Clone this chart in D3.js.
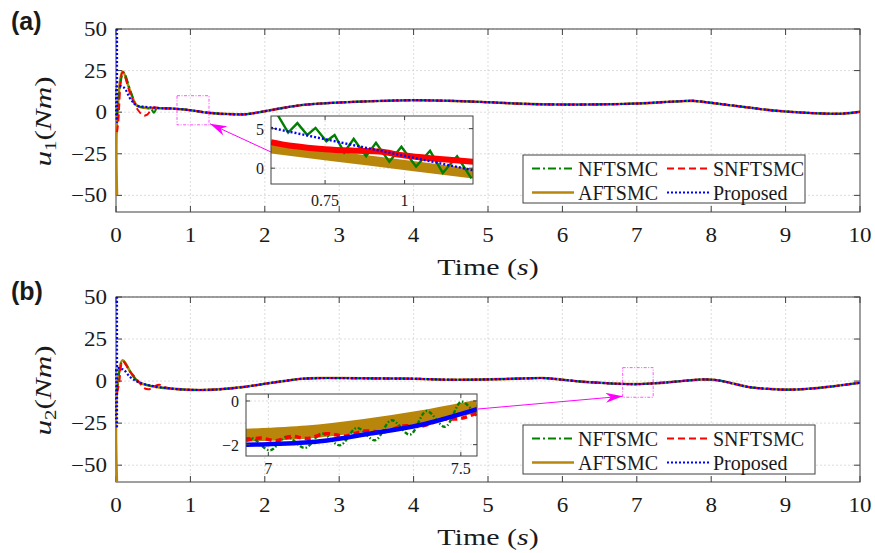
<!DOCTYPE html>
<meta charset="utf-8">
<style>
  body { margin: 0; background: #fff; }
  svg text { font-family: 'Liberation Serif', 'Times New Roman', serif; fill: #1a1a1a; }
  .tag { font-family: 'Liberation Sans', Arial, sans-serif !important; font-weight: bold; font-size: 25px; }
</style>
<body>
<div id="chart"></div>
<script src="https://cdn.jsdelivr.net/npm/d3@7/dist/d3.min.js"></script>
<script>
// ---- data ----
var timeTicks = [0, 1, 2, 3, 4, 5, 6, 7, 8, 9, 10];
var uTicks = [-50, -25, 0, 25, 50];
var methods = ["NFTSMC", "SNFTSMC", "AFTSMC", "Proposed"];

// joint 1: start-up transients, then a shared steady part
var nftsmcHead1 = [[0, -2], [0.1, 24], [0.2, 12], [0.28, 4], [0.4, 2.6], [0.47, 2], [0.51, -0.3], [0.55, 2.4]];
var snftsmcHead1 = [[0, -12], [0.03, -6], [0.09, 24], [0.2, 10], [0.3, 1], [0.37, -2], [0.42, -1.5], [0.5, 2.8]];
var aftsmcHead1 = [[0, -50], [0, -5], [0.09, 24.5], [0.18, 14], [0.28, 4], [0.4, 2.6], [0.5, 2.4]];
var proposedHead1 = [[0, 50], [0, -6], [0.01, 15.5], [0.1, 15], [0.2, 7.5], [0.28, 4], [0.37, 3.3], [0.5, 2.8]];
var tail1 = [[0.6, 2.4], [0.75, 2.2], [1.0, 1.2], [1.25, -0.4], [1.5, -1.1], [1.75, -1.2], [2.0, 0.6], [2.25, 2.6],
  [2.5, 4.3], [2.75, 5.2], [3.0, 5.8], [3.5, 6.7], [4.0, 7.2], [4.5, 6.8], [5.0, 6.0], [5.5, 5.0], [6.0, 4.6],
  [6.5, 4.7], [7.0, 5.2], [7.5, 6.4], [7.75, 6.8], [8.0, 5.6], [8.25, 4.2], [8.5, 2.8], [8.75, 1.4], [9.0, 0.4],
  [9.25, -0.3], [9.5, -0.8], [9.75, -0.9], [10, 0.2]];

// joint 2
var nftsmcHead2 = [[0, -6], [0.09, 12], [0.2, 5], [0.3, -0.4], [0.5, -3.2], [0.75, -4.5]];
var snftsmcHead2 = [[0, -7], [0.04, -2], [0.09, 11.5], [0.2, 5], [0.3, 0], [0.38, -4.2], [0.45, -4.8], [0.52, -3],
  [0.58, -2.2], [0.66, -3.6], [0.75, -4.5]];
var aftsmcHead2 = [[0, -62], [0, -6], [0.09, 12.4], [0.2, 5], [0.3, -0.5], [0.5, -3.2], [0.75, -4.5]];
var proposedHead2 = [[0, 50], [0, -28], [0.01, 7.4], [0.1, 6.8], [0.19, 2.4], [0.3, -0.6], [0.5, -3], [0.75, -4.5]];
var tail2 = [[1.0, -5.2], [1.25, -5.2], [1.5, -4.5], [1.75, -3.3], [2.0, -1.6], [2.25, 0], [2.5, 1.4], [2.75, 1.8],
  [3.0, 1.8], [3.5, 1.6], [4.0, 1.4], [4.5, 0.8], [5.0, 1.0], [5.5, 1.6], [5.75, 1.8], [6.0, 0.8], [6.25, -0.3],
  [6.5, -1.0], [6.75, -1.6], [7.0, -1.8], [7.25, -1.3], [7.5, -0.4], [7.75, 0.6], [7.9, 1.0], [8.1, 0.4],
  [8.3, -1.5], [8.5, -3.5], [8.75, -4.6], [9.0, -5.1], [9.3, -4.6], [9.6, -3.3], [10, -1.0]];

// zoomed insets
var insetTime1 = [0.58, 1.215], insetU1 = [-2, 6.6];
var insetTimeTicks1 = [0.75, 1], insetUTicks1 = [0, 5];
var zoomBox1 = {t: [0.82, 1.25], u: [-7.6, 9.9]};
var nftsmcZoom1 = [[0.6, 6.8], [0.634, 4.5], [0.663, 5.7], [0.694, 4.2], [0.72, 5.1], [0.754, 3.4], [0.78, 4.2],
  [0.81, 2.0], [0.84, 3.7], [0.879, 1.5], [0.91, 3.2], [0.952, 0.8], [0.99, 2.7], [1.036, 0.2], [1.08, 2.2],
  [1.12, -0.6], [1.165, 1.5], [1.21, -1.3]];
var snftsmcZoom1 = [[0.58, 3.3], [0.65, 2.8], [0.75, 2.4], [0.85, 2.2], [0.92, 2.1], [1.0, 1.6], [1.1, 1.2], [1.22, 0.8]];
var aftsmcZoom1 = [[0.58, 2.5], [0.9, 0.9], [1.22, -0.7]];
var proposedZoom1 = [[0.58, 5.1], [1.22, -0.3]];

var insetTime2 = [6.942, 7.542], insetU2 = [-2.52, 0.32];
var insetTimeTicks2 = [7, 7.5], insetUTicks2 = [-2, 0];
var zoomBox2 = {t: [6.81, 7.22], u: [-9.6, 8]};
var nftsmcZoom2 = [[6.942, -1.72], [6.961, -1.72], [7.004, -2.26], [7.048, -1.64], [7.095, -2.15], [7.139, -1.49],
  [7.186, -2.03], [7.23, -1.23], [7.277, -1.8], [7.32, -0.88], [7.368, -1.54], [7.411, -0.46], [7.459, -1.18],
  [7.502, -0.03], [7.542, -0.72]];
var snftsmcZoom2 = [[6.942, -1.8], [6.98, -1.7], [7.02, -1.82], [7.06, -1.62], [7.1, -1.72], [7.15, -1.5], [7.2, -1.6],
  [7.25, -1.38], [7.3, -1.42], [7.35, -1.15], [7.4, -1.15], [7.45, -0.85], [7.5, -0.8], [7.542, -0.55]];
var aftsmcZoom2 = [[6.942, -1.57], [7.1, -1.42], [7.25, -1.12], [7.4, -0.72], [7.542, -0.25]];
var proposedZoom2 = [[6.942, -2.0], [7.0, -1.98], [7.134, -1.84], [7.264, -1.49], [7.394, -1.1], [7.542, -0.37]];

// ---- styles ----
var colors = {NFTSMC: "#008000", SNFTSMC: "#ff0000", AFTSMC: "#b8860b", Proposed: "#0000ff"};
var dashes = {NFTSMC: "8,3,2,3", SNFTSMC: "7,4", AFTSMC: null, Proposed: "2,2"};
var widths = {NFTSMC: 2, SNFTSMC: 2, AFTSMC: 2.6, Proposed: 2.2};
var drawOrder = ["AFTSMC", "NFTSMC", "SNFTSMC", "Proposed"];
var serif = "'Liberation Serif', 'Times New Roman', serif";

var svg = d3.select("#chart").append("svg").attr("width", 875).attr("height", 553);
var defs = svg.append("defs");
defs.append("marker")
  .attr("id", "arrowHead")
  .attr("viewBox", "0 0 10 10")
  .attr("preserveAspectRatio", "none")
  .attr("refX", 10).attr("refY", 5)
  .attr("markerWidth", 17).attr("markerHeight", 10)
  .attr("markerUnits", "userSpaceOnUse")
  .attr("orient", "auto")
  .append("path").attr("d", "M0,0L10,5L0,10L3,5Z").attr("fill", "#ff00ff");

function stretchText(parent, x, y, str, size, sx, anchor) {
  return parent.append("text")
    .attr("transform", "translate(" + x + "," + y + ") scale(" + sx + ",1)")
    .attr("text-anchor", anchor)
    .attr("font-family", serif)
    .style("font-size", size + "px")
    .text(str);
}

function fmt(v) { return String(v).replace("-", "\u2212"); }

var panels = [
  {tag: "(a)", sub: "1", top: 29, bottom: 212,
    series: {NFTSMC: nftsmcHead1.concat(tail1), SNFTSMC: snftsmcHead1.concat(tail1), AFTSMC: aftsmcHead1.concat(tail1), Proposed: proposedHead1.concat(tail1)},
    zoom: {NFTSMC: nftsmcZoom1, SNFTSMC: snftsmcZoom1, AFTSMC: aftsmcZoom1, Proposed: proposedZoom1},
    zoomWidths: {NFTSMC: 2.4, SNFTSMC: 6, AFTSMC: 10, Proposed: 2.4},
    zoomDashes: {NFTSMC: null, SNFTSMC: null, AFTSMC: null, Proposed: "2,2"},
    zoomCurve: {NFTSMC: d3.curveLinear},
    inset: {left: 271, right: 473, top: 116, bottom: 184, t: insetTime1, u: insetU1, tTicks: insetTimeTicks1, uTicks: insetUTicks1},
    box: zoomBox1, arrowFrom: [271, 152], arrowCorner: [1, 0],
    legend: {x: 523, y: 155, w: 282, h: 48}},
  {tag: "(b)", sub: "2", top: 297, bottom: 482,
    series: {NFTSMC: nftsmcHead2.concat(tail2), SNFTSMC: snftsmcHead2.concat(tail2), AFTSMC: aftsmcHead2.concat(tail2), Proposed: proposedHead2.concat(tail2)},
    zoom: {NFTSMC: nftsmcZoom2, SNFTSMC: snftsmcZoom2, AFTSMC: aftsmcZoom2, Proposed: proposedZoom2},
    zoomWidths: {NFTSMC: 2.4, SNFTSMC: 3.5, AFTSMC: 13, Proposed: 4.5},
    zoomDashes: {NFTSMC: "4,2,1.5,2", SNFTSMC: "6,4", AFTSMC: null, Proposed: null},
    zoomCurve: {},
    inset: {left: 246, right: 477, top: 394, bottom: 456, t: insetTime2, u: insetU2, tTicks: insetTimeTicks2, uTicks: insetUTicks2},
    box: zoomBox2, arrowFrom: [478, 409], arrowCorner: [0, 0],
    legend: {x: 523, y: 425, w: 292, h: 49}}
];

panels.forEach(function(p, pi) {
  var left = 116, right = 860;
  var x = d3.scaleLinear().domain([0, 10]).range([left, right]);
  var y = d3.scaleLinear().domain([-60, 50]).range([p.bottom, p.top]);
  var g = svg.append("g");

  // a little slack on the left so the t = 0 spikes keep their full width
  defs.append("clipPath").attr("id", "clipMain" + pi)
    .append("rect").attr("x", left - 1).attr("y", p.top).attr("width", right - left + 1).attr("height", p.bottom - p.top);

  // grid
  var grid = g.append("g").attr("stroke", "#d4d4d4").attr("stroke-width", 0.8).attr("stroke-dasharray", "2,2");
  grid.selectAll(".gx").data(timeTicks.slice(1, -1)).enter().append("line")
    .attr("x1", function(d) { return x(d); }).attr("x2", function(d) { return x(d); })
    .attr("y1", p.top).attr("y2", p.bottom);
  grid.selectAll(".gy").data(uTicks).enter().append("line")
    .attr("x1", left).attr("x2", right)
    .attr("y1", function(d) { return y(d); }).attr("y2", function(d) { return y(d); });

  // axes box with inward ticks on all sides
  var ax = g.append("g").attr("stroke", "#404040").attr("stroke-width", 1);
  ax.append("rect").attr("x", left).attr("y", p.top).attr("width", right - left).attr("height", p.bottom - p.top).attr("fill", "none");
  timeTicks.forEach(function(t) {
    ax.append("line").attr("x1", x(t)).attr("x2", x(t)).attr("y1", p.bottom).attr("y2", p.bottom - 6);
    ax.append("line").attr("x1", x(t)).attr("x2", x(t)).attr("y1", p.top).attr("y2", p.top + 6);
  });
  uTicks.forEach(function(u) {
    ax.append("line").attr("x1", left).attr("x2", left + 6).attr("y1", y(u)).attr("y2", y(u));
    ax.append("line").attr("x1", right).attr("x2", right - 6).attr("y1", y(u)).attr("y2", y(u));
  });

  // curves (drawn over the box so the t = 0 spikes sit on the axis)
  var line = d3.line().x(function(d) { return x(d[0]) + (d[0] === 0 ? 1 : 0); }).y(function(d) { return y(d[1]); })
    .curve(d3.curveCatmullRom.alpha(0.5));
  var curves = g.append("g").attr("clip-path", "url(#clipMain" + pi + ")");
  drawOrder.forEach(function(m) {
    curves.append("path").datum(p.series[m])
      .attr("d", line)
      .attr("fill", "none")
      .attr("stroke", colors[m])
      .attr("stroke-width", widths[m])
      .attr("stroke-dasharray", dashes[m]);
  });

  // tick labels
  timeTicks.forEach(function(t) {
    stretchText(g, x(t), p.bottom + 30, fmt(t), 20, 1.15, "middle");
  });
  uTicks.forEach(function(u) {
    stretchText(g, left - 9, y(u) + 7, fmt(u), 20, 1.15, "end");
  });

  // axis titles
  var xt = g.append("text")
    .attr("transform", "translate(" + ((left + right) / 2) + "," + (p.bottom + 63) + ") scale(1.25,1)")
    .attr("text-anchor", "middle").attr("font-family", serif).style("font-size", "24px");
  xt.append("tspan").text("Time (");
  xt.append("tspan").style("font-style", "italic").text("s");
  xt.append("tspan").text(")");

  var yt = g.append("text")
    .attr("transform", "translate(51," + ((p.top + p.bottom) / 2 + 1) + ") rotate(-90) scale(1.3,1)")
    .attr("text-anchor", "middle").attr("font-family", serif).style("font-size", "24px");
  yt.append("tspan").style("font-style", "italic").text("u");
  yt.append("tspan").attr("dy", 5).style("font-size", "16px").text(p.sub);
  yt.append("tspan").attr("dy", -5).text("(");
  yt.append("tspan").style("font-style", "italic").text("Nm");
  yt.append("tspan").text(")");

  // panel tag
  g.append("text").attr("class", "tag").attr("x", 11).attr("y", p.top - (pi === 0 ? -1 : -3)).text(p.tag);

  // zoom box and arrow
  var bx0 = x(p.box.t[0]), bx1 = x(p.box.t[1]), by0 = y(p.box.u[1]), by1 = y(p.box.u[0]);
  g.append("rect").attr("x", bx0).attr("y", by0).attr("width", bx1 - bx0).attr("height", by1 - by0)
    .attr("fill", "none").attr("stroke", "#ff00ff").attr("stroke-width", 0.9).attr("stroke-dasharray", "3,1.5,1,1.5").attr("opacity", 0.75);
  var tip = [p.arrowCorner[0] ? bx1 + 1 : bx0, by1 - 1];
  g.append("line").attr("x1", p.arrowFrom[0]).attr("y1", p.arrowFrom[1]).attr("x2", tip[0]).attr("y2", tip[1])
    .attr("stroke", "#ff00ff").attr("stroke-width", 1).attr("marker-end", "url(#arrowHead)");

  // inset
  var ins = p.inset;
  var ix = d3.scaleLinear().domain(ins.t).range([ins.left, ins.right]);
  var iy = d3.scaleLinear().domain(ins.u).range([ins.bottom, ins.top]);
  var ig = g.append("g");
  defs.append("clipPath").attr("id", "clipInset" + pi)
    .append("rect").attr("x", ins.left).attr("y", ins.top).attr("width", ins.right - ins.left).attr("height", ins.bottom - ins.top);
  ig.append("rect").attr("x", ins.left).attr("y", ins.top).attr("width", ins.right - ins.left).attr("height", ins.bottom - ins.top).attr("fill", "#fff");
  var igrid = ig.append("g").attr("stroke", "#d4d4d4").attr("stroke-width", 0.8).attr("stroke-dasharray", "2,2");
  ins.tTicks.forEach(function(t) {
    igrid.append("line").attr("x1", ix(t)).attr("x2", ix(t)).attr("y1", ins.top).attr("y2", ins.bottom);
  });
  ins.uTicks.forEach(function(u) {
    igrid.append("line").attr("x1", ins.left).attr("x2", ins.right).attr("y1", iy(u)).attr("y2", iy(u));
  });
  var icurves = ig.append("g").attr("clip-path", "url(#clipInset" + pi + ")");
  drawOrder.forEach(function(m) {
    var il = d3.line().x(function(d) { return ix(d[0]); }).y(function(d) { return iy(d[1]); })
      .curve(p.zoomCurve[m] || d3.curveCatmullRom.alpha(0.5));
    icurves.append("path").datum(p.zoom[m])
      .attr("d", il)
      .attr("fill", "none")
      .attr("stroke", colors[m])
      .attr("stroke-width", p.zoomWidths[m])
      .attr("stroke-dasharray", p.zoomDashes[m]);
  });
  var iax = ig.append("g").attr("stroke", "#404040").attr("stroke-width", 1);
  iax.append("rect").attr("x", ins.left).attr("y", ins.top).attr("width", ins.right - ins.left).attr("height", ins.bottom - ins.top).attr("fill", "none");
  ins.tTicks.forEach(function(t) {
    iax.append("line").attr("x1", ix(t)).attr("x2", ix(t)).attr("y1", ins.bottom).attr("y2", ins.bottom - 4);
    iax.append("line").attr("x1", ix(t)).attr("x2", ix(t)).attr("y1", ins.top).attr("y2", ins.top + 4);
    ig.append("text").attr("x", ix(t)).attr("y", ins.bottom + (pi === 0 ? 22 : 18)).attr("text-anchor", "middle")
      .attr("font-family", serif).style("font-size", "16px").text(fmt(t));
  });
  ins.uTicks.forEach(function(u) {
    iax.append("line").attr("x1", ins.left).attr("x2", ins.left + 4).attr("y1", iy(u)).attr("y2", iy(u));
    iax.append("line").attr("x1", ins.right).attr("x2", ins.right - 4).attr("y1", iy(u)).attr("y2", iy(u));
    ig.append("text").attr("x", ins.left - 7).attr("y", iy(u) + 6).attr("text-anchor", "end")
      .attr("font-family", serif).style("font-size", "16px").text(fmt(u));
  });

  // legend
  var L = p.legend;
  var lg = g.append("g").attr("transform", "translate(" + L.x + "," + L.y + ")");
  lg.append("rect").attr("width", L.w).attr("height", L.h).attr("fill", "#fff").attr("stroke", "#404040").attr("stroke-width", 1);
  methods.forEach(function(m, i) {
    var col = i % 2, row = Math.floor(i / 2);
    var lx = col === 0 ? 9 : 144, ly = row === 0 ? 13.5 : 37.5;
    lg.append("line").attr("x1", lx).attr("x2", lx + 42).attr("y1", ly).attr("y2", ly)
      .attr("stroke", colors[m]).attr("stroke-width", m === "AFTSMC" ? 2.6 : 2.2)
      .attr("stroke-dasharray", dashes[m]);
    lg.append("text").attr("x", lx + 46).attr("y", ly + 7).attr("font-family", serif).style("font-size", "20px").text(m);
  });
});
</script>
</body>
